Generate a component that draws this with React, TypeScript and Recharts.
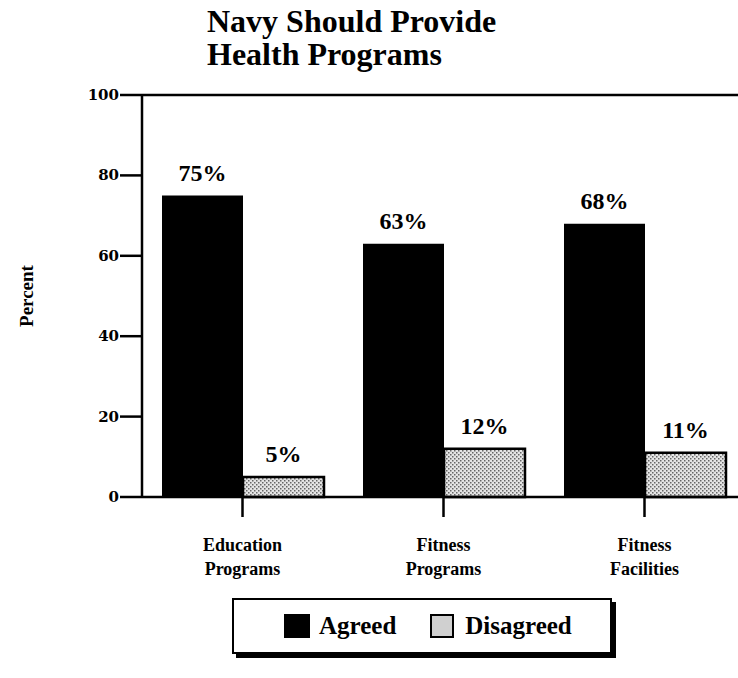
import React from "react";
import { BarChart, Bar, XAxis, YAxis, LabelList, ReferenceLine, Legend } from "recharts";

const titleLines = ["Navy Should Provide", "Health Programs"];
const categories = ["Education\nPrograms", "Fitness\nPrograms", "Fitness\nFacilities"];
const agreed = [75, 63, 68];
const disagreed = [5, 12, 11];
const yTicks = [0, 20, 40, 60, 80, 100];
const seriesNames = ["Agreed", "Disagreed"];
const yLabel = "Percent";

const data = categories.map((c, i) => ({ cat: c, agreed: agreed[i], disagreed: disagreed[i] }));

const SERIF = "'Liberation Serif', 'Times New Roman', serif";

const XTick = (props: any) => {
  const { x, y, payload } = props;
  const lines = String(payload.value).split("\n");
  return (
    <g>
      {lines.map((l: string, i: number) => (
        <text key={i} x={x} y={y + 32 + i * 24} textAnchor="middle" fontFamily={SERIF} fontWeight="bold" fontSize={18} fill="#000">
          {l}
        </text>
      ))}
    </g>
  );
};

const YTick = (props: any) => {
  const { x, y, payload } = props;
  return (
    <text x={x} y={y + 5} textAnchor="end" fontFamily="'DejaVu Serif', serif" fontWeight="bold" fontSize={15} fill="#000">
      {payload.value}
    </text>
  );
};

const LegendContent = () => (
  <div
    style={{
      width: 380,
      height: 56,
      border: "2px solid #000",
      boxShadow: "4px 4px 0 #000",
      background: "#fff",
      boxSizing: "border-box",
      display: "flex",
      alignItems: "center",
      fontFamily: SERIF,
      fontWeight: "bold",
      fontSize: 25,
      color: "#000",
    }}
  >
    <div style={{ width: 26, height: 24, background: "#000", marginLeft: 50 }} />
    <span style={{ marginLeft: 9 }}>{seriesNames[0]}</span>
    <div style={{ width: 20, height: 20, background: "#d0d0d0", border: "2px solid #000", marginLeft: 34 }} />
    <span style={{ marginLeft: 11 }}>{seriesNames[1]}</span>
  </div>
);

export default function App() {
  return (
    <div style={{ position: "fixed", left: 0, top: 0, width: 738, height: 678, overflow: "hidden", background: "#fff" }}>
      <svg width={0} height={0} style={{ position: "absolute" }}>
        <defs>
          <pattern id="dots" width="4" height="4" patternUnits="userSpaceOnUse">
            <rect width="4" height="4" fill="#e4e4e4" />
            <rect x="0" y="0" width="1.5" height="1.5" fill="#666" />
            <rect x="2" y="2" width="1.5" height="1.5" fill="#666" />
          </pattern>
        </defs>
      </svg>
      <div
        style={{
          position: "absolute",
          left: 207,
          top: 5,
          fontFamily: SERIF,
          fontWeight: "bold",
          fontSize: 32,
          lineHeight: "33px",
          color: "#000",
          whiteSpace: "nowrap",
        }}
      >
        {titleLines.map((t) => (
          <div key={t}>{t}</div>
        ))}
      </div>
      <BarChart
        width={760}
        height={678}
        data={data}
        margin={{ top: 95, right: 15, bottom: 0, left: 0 }}
        barGap={0}
        barSize={81}
      >
        <ReferenceLine y={100} stroke="#000" strokeWidth={2.5} />
        <XAxis
          dataKey="cat"
          height={181}
          axisLine={{ stroke: "#000", strokeWidth: 2.5 }}
          tickLine={{ stroke: "#000", strokeWidth: 2.5 }}
          tickSize={20}
          tick={<XTick />}
          interval={0}
        />
        <YAxis
          width={142}
          domain={[0, 100]}
          ticks={yTicks}
          axisLine={{ stroke: "#000", strokeWidth: 2.5 }}
          tickLine={{ stroke: "#000", strokeWidth: 2.5 }}
          tickSize={22}
          tickMargin={1}
          tick={<YTick />}
          label={{
            content: (p: any) => {
              const vb = p.viewBox || { x: 0, y: 95, width: 142, height: 402 };
              const cx = vb.x + 26;
              const cy = vb.y + vb.height / 2;
              return (
                <text x={cx} y={cy} transform={`rotate(-90, ${cx}, ${cy})`} textAnchor="middle" dominantBaseline="central" fontFamily={SERIF} fontWeight="bold" fontSize={19} fill="#000">
                  {yLabel}
                </text>
              );
            },
          }}
        />
        <Legend
          layout="horizontal"
          verticalAlign="middle"
          align="center"
          wrapperStyle={{ position: "absolute", left: 232, top: 598, width: 390 }}
          content={<LegendContent />}
        />
        <Bar dataKey="agreed" name={seriesNames[0]} fill="#000" isAnimationActive={false}>
          <LabelList dataKey="agreed" position="top" offset={15} formatter={(v: any) => `${v}%`} style={{ fontFamily: SERIF, fontWeight: "bold", fontSize: 24, fill: "#000" }} />
        </Bar>
        <Bar dataKey="disagreed" name={seriesNames[1]} fill="url(#dots)" stroke="#000" strokeWidth={2.5} isAnimationActive={false}>
          <LabelList dataKey="disagreed" position="top" offset={15} formatter={(v: any) => `${v}%`} style={{ fontFamily: SERIF, fontWeight: "bold", fontSize: 24, fill: "#000" }} />
        </Bar>
      </BarChart>
    </div>
  );
}
